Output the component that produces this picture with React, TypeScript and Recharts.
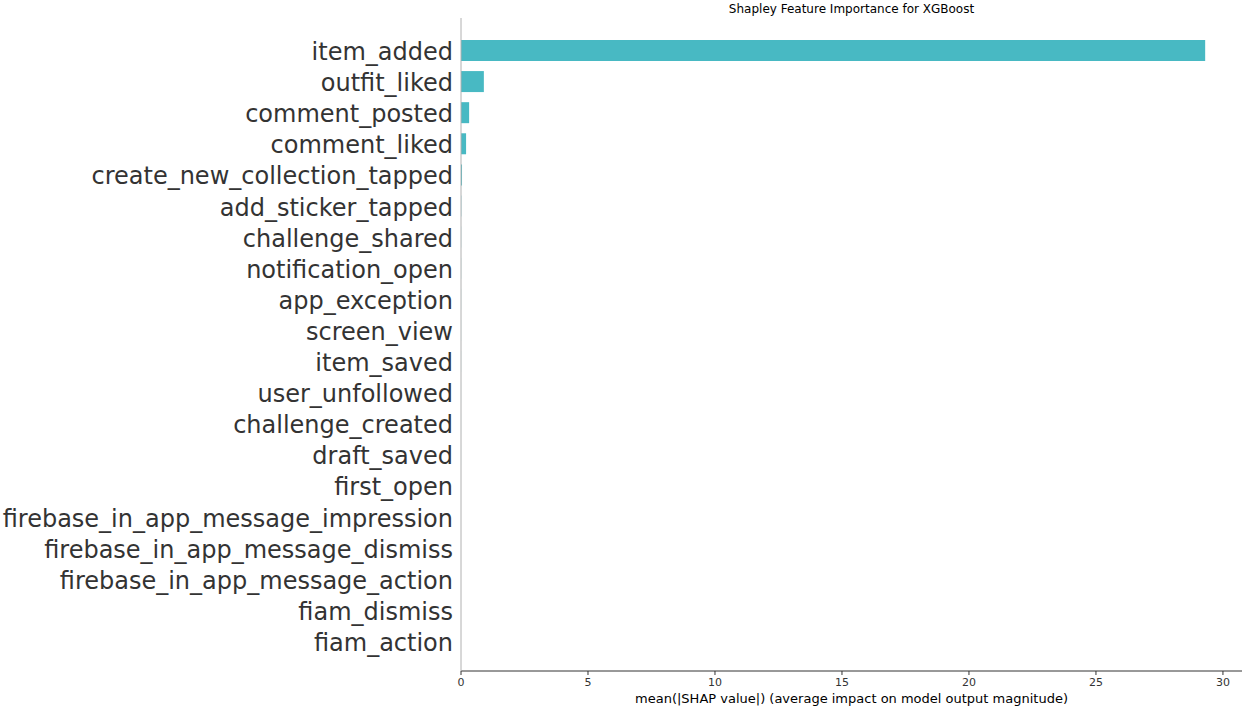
import React from "react";
import { BarChart, Bar, XAxis, YAxis, Label } from "recharts";

const features = [
  "item_added",
  "outfit_liked",
  "comment_posted",
  "comment_liked",
  "create_new_collection_tapped",
  "add_sticker_tapped",
  "challenge_shared",
  "notification_open",
  "app_exception",
  "screen_view",
  "item_saved",
  "user_unfollowed",
  "challenge_created",
  "draft_saved",
  "first_open",
  "firebase_in_app_message_impression",
  "firebase_in_app_message_dismiss",
  "firebase_in_app_message_action",
  "fiam_dismiss",
  "fiam_action",
];

const shapValues = [29.3, 0.9, 0.32, 0.2, 0.04, 0.01, 0.005, 0.004, 0.003, 0.002, 0.002, 0.001, 0.001, 0.001, 0.0, 0.0, 0.0, 0.0, 0.0, 0.0];

const xTicks = [0, 5, 10, 15, 20, 25, 30];

const data = features.map((f, i) => ({ feature: f, value: shapValues[i] }));

const FONT = "'DejaVu Sans', sans-serif";

export default function App() {
  return (
    <div style={{ position: "absolute", left: 0, top: 0, width: 1258, height: 718, fontFamily: FONT, background: "#fff" }}>
      <div
        style={{
          position: "absolute",
          left: 461,
          width: 781,
          top: 2,
          textAlign: "center",
          fontSize: 12,
          color: "#000",
          fontFamily: FONT,
        }}
      >
        Shapley Feature Importance for XGBoost
      </div>
      <BarChart
        width={1258}
        height={718}
        data={data}
        layout="vertical"
        margin={{ top: 18, right: 16, bottom: 0, left: 0 }}
        barCategoryGap="16%"
      >
        <XAxis
          type="number"
          domain={[0, 30.75]}
          ticks={xTicks}
          allowDataOverflow
          height={47}
          axisLine={{ stroke: "#333", strokeWidth: 1 }}
          tickLine={{ stroke: "#333" }}
          tickSize={4}
          tickMargin={3}
          tick={{ fill: "#333", fontSize: 11, fontFamily: FONT }}
        >
          <Label
            value="mean(|SHAP value|) (average impact on model output magnitude)"
            position="insideBottom"
            offset={15}
            style={{ fill: "#000", fontSize: 13, fontFamily: FONT }}
          />
        </XAxis>
        <YAxis
          type="category"
          dataKey="feature"
          width={461}
          interval={0}
          padding={{ top: 17, bottom: 14 }}
          axisLine={{ stroke: "#b0b0b0", strokeWidth: 1 }}
          tickLine={false}
          tickSize={6}
          tickMargin={2}
          tick={{ fill: "#333", fontSize: 24, fontFamily: FONT, dy: 1 }}
        />
        <Bar dataKey="value" fill="#48b9c3" isAnimationActive={false} />
      </BarChart>
    </div>
  );
}
